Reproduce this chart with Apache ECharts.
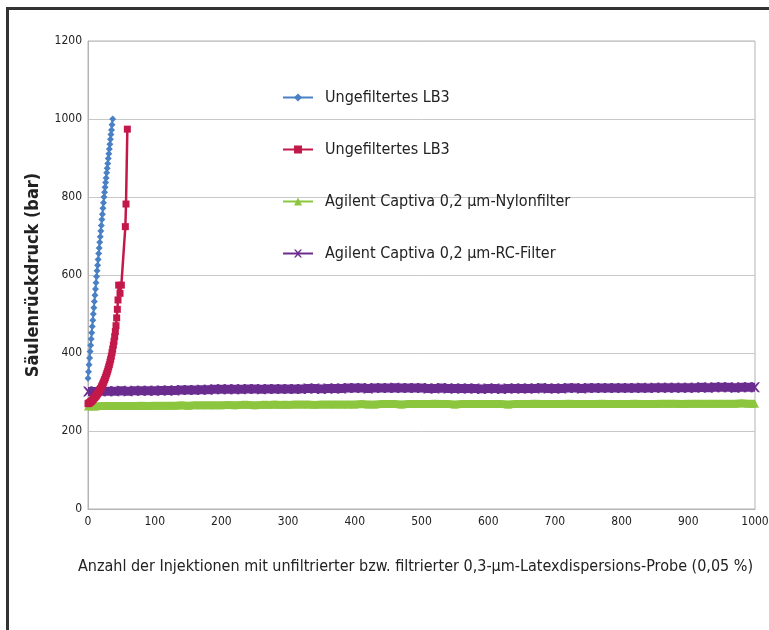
<!DOCTYPE html>
<html>
<head>
<meta charset="utf-8">
<script src="https://cdn.jsdelivr.net/npm/echarts@6/dist/echarts.min.js"></script>
<style>
html,body{margin:0;padding:0;background:#fff;overflow:hidden;width:769px;height:630px;}
#frame{position:absolute;left:6px;top:7px;width:760px;height:620px;border-left:3px solid #333;border-top:3px solid #333;}
#chart{position:absolute;left:0;top:0;width:769px;height:630px;}
</style>
</head>
<body>
<div id="frame"></div>
<div id="chart"></div>
<script>
var FONT = "'Liberation Sans Narrow', 'DejaVu Sans Condensed', sans-serif";

var seriesNames = ["Ungefiltertes LB3", "Ungefiltertes LB3", "Agilent Captiva 0,2 µm-Nylonfilter", "Agilent Captiva 0,2 µm-RC-Filter"];
var xTicks = [0,100,200,300,400,500,600,700,800,900,1000];
var yTicks = [0,200,400,600,800,1000,1200];

var blueX = [0,0.8,1.6,2.4,3.2,4.0,4.8,5.6,6.4,7.2,8.0,8.8,9.6,10.4,11.2,12.0,12.8,13.6,14.4,15.2,16.0,16.8,17.6,18.4,19.2,20.0,20.8,21.6,22.4,23.2,24.0,24.8,25.6,26.4,27.2,28.0,28.8,29.6,30.4,31.2,32.0,32.8,33.6,34.4,35.2,36.0,37.0];
var blueY = [335,352,370,387,404,420,436,452,468,484,500,516,532,548,564,580,596,611,625,640,655,669,684,698,713,727,742,756,771,785,800,812,825,837,849,862,874,886,899,911,923,935,948,960,972,985,1000];

var redX = [0,1,2,3,4,5,6,7,8,9,10,11,12,13,14,15,16,17,18,19,20,21,22,23,24,25,26,27,28,29,30,31,32,33,34,35,36,37,38,39,40,41,42,43,44,45,46,48,50,56,57,59];
var redY = [270,271,272,273,275,276,278,280,282,284,286,288,290,292,295,297,300,303,306,309,313,316,320,324,328,332,337,342,347,352,358,364,370,377,384,392,401,410,420,430,442,455,470,490,512,536,574,553,574,724,782,974];

var injections = [0,10,20,30,40,50,60,70,80,90,100,110,120,130,140,150,160,170,180,190,200,210,220,230,240,250,260,270,280,290,300,310,320,330,340,350,360,370,380,390,400,410,420,430,440,450,460,470,480,490,500,510,520,530,540,550,560,570,580,590,600,610,620,630,640,650,660,670,680,690,700,710,720,730,740,750,760,770,780,790,800,810,820,830,840,850,860,870,880,890,900,910,920,930,940,950,960,970,980,990,1000];

var nylonY = [263,263,264,264,264,264,264,264,265,264,
265,265,265,265,266,265,266,266,266,266,
266,267,266,267,267,266,267,267,268,267,
267,268,268,268,267,268,268,268,268,268,
268,269,268,268,269,269,269,268,269,269,
269,269,270,269,269,268,269,269,269,269,
269,269,269,268,269,269,269,270,269,269,
269,269,270,269,269,269,269,270,269,269,
269,269,270,269,269,269,270,270,270,269,
270,270,270,270,270,270,270,270,271,270,
270];

var rcY = [301,301,302,302,302,303,302,303,303,303,
303,304,304,304,305,305,305,306,306,307,
307,307,307,307,308,308,307,308,308,308,
308,308,308,309,309,308,309,309,309,310,
310,310,309,310,310,310,311,310,310,310,
310,309,309,310,309,309,309,309,309,308,
309,309,308,309,309,309,309,309,310,309,
309,309,310,310,309,310,310,310,310,310,
310,310,310,311,310,311,311,311,311,311,
311,311,312,311,312,312,312,311,312,312,
312];

function pairs(xs, ys){ var out=[]; for (var i=0;i<ys.length;i++) out.push([xs[i], ys[i]]); return out; }

var X_PATH = 'path://M0,0 L2,0 L5,3 L8,0 L10,0 L6,5 L10,10 L8,10 L5,7 L2,10 L0,10 L4,5 Z';

var chart = echarts.init(document.getElementById('chart'), null, {renderer:'canvas'});
chart.setOption({
  animation: false,
  backgroundColor: 'transparent',
  textStyle: {fontFamily: FONT},
  grid: {left: 88, top: 41, right: 14, bottom: 121, containLabel: false, outerBoundsMode: 'none',
         show: true, borderColor: '#b4b4b4', borderWidth: 1, backgroundColor: 'transparent'},
  legend: {
    orient: 'vertical', left: 282, top: 89, padding: 0, itemGap: 35, itemWidth: 30, itemHeight: 10,
    textStyle: {fontFamily: FONT, fontSize: 16, color: '#222', padding: [0,0,0,7], lineHeight: 17},
    data: ['s0','s1','s2','s3'],
    formatter: function(n){ return seriesNames[+n.slice(1)]; }
  },
  xAxis: {
    type: 'value', min: 0, max: 1000, interval: 100,
    name: 'Anzahl der Injektionen mit unfiltrierter bzw. filtrierter 0,3-µm-Latexdispersions-Probe (0,05 %)',
    nameLocation: 'middle', nameGap: 50,
    nameTextStyle: {fontFamily: FONT, fontSize: 16, color: '#222', padding: [0,12,0,0]},
    axisLine: {show: true, lineStyle: {color: '#b4b4b4', width: 1}},
    axisTick: {show: false},
    splitLine: {show: false},
    axisLabel: {fontFamily: FONT, fontSize: 12, color: '#222', margin: 7,
      formatter: function(v){ return xTicks.indexOf(v) >= 0 ? String(v) : ''; }}
  },
  yAxis: {
    type: 'value', min: 0, max: 1200, interval: 200,
    name: 'Säulenrückdruck (bar)', nameLocation: 'middle', nameGap: 46,
    nameTextStyle: {fontFamily: FONT, fontSize: 18, fontWeight: 'bold', color: '#222'},
    axisLine: {show: true, lineStyle: {color: '#b4b4b4', width: 1}},
    axisTick: {show: false},
    splitLine: {show: true, lineStyle: {color: '#c8c8c8', width: 1}},
    axisLabel: {fontFamily: FONT, fontSize: 12, color: '#222', margin: 6,
      formatter: function(v){ return yTicks.indexOf(v) >= 0 ? String(v) : ''; }}
  },
  series: [
    {name: 's3', type: 'line', data: pairs(injections, rcY), color: '#6a2d8f',
     symbol: X_PATH, symbolSize: 10, lineStyle: {width: 9, color: '#6a2d8f'}, itemStyle: {color: '#6a2d8f'}, z: 2},
    {name: 's2', type: 'line', data: pairs(injections, nylonY), color: '#8cc63f',
     symbol: 'triangle', symbolSize: 8, lineStyle: {width: 8, color: '#8cc63f'}, itemStyle: {color: '#8cc63f'}, z: 2},
    {name: 's1', type: 'line', data: pairs(redX, redY), color: '#c3194a',
     symbol: 'rect', symbolSize: 7, lineStyle: {width: 2.5, color: '#c3194a'}, itemStyle: {color: '#c3194a'}, z: 3},
    {name: 's0', type: 'line', data: pairs(blueX, blueY), color: '#4a80c4',
     symbol: 'diamond', symbolSize: 7, lineStyle: {width: 2, color: '#4a80c4'}, itemStyle: {color: '#4a80c4'}, z: 4}
  ]
});
</script>
</body>
</html>
